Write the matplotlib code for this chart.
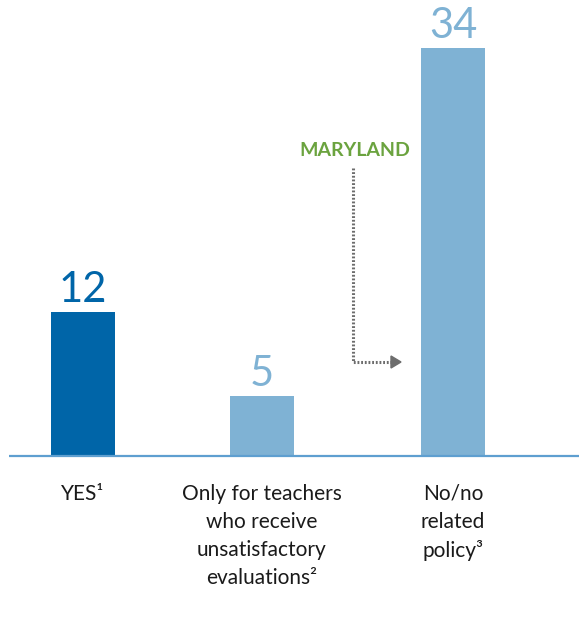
import matplotlib.pyplot as plt
from matplotlib.patches import Polygon

plt.rcParams['font.family'] = ['Lato', 'DejaVu Sans']

categories = ["YES\u00b9", "Only for teachers\nwho receive\nunsatisfactory\nevaluations\u00b2", "No/no\nrelated\npolicy\u00b3"]
values = [12, 5, 34]
bar_colors = ["#0065a8", "#7fb2d4", "#7fb2d4"]
callout_label = "MARYLAND"

W, H = 579, 624
fig = plt.figure(figsize=(W / 100, H / 100), dpi=100)
ax = fig.add_axes([0, 0, 1, 1])

# pixel-based horizontal frame, value-based vertical frame
px_per_unit = 12.0
base_px = 456
ax.set_xlim(0, W)
ax.set_ylim(-(H - base_px) / px_per_unit, base_px / px_per_unit)
ax.axis('off')

centers = [83, 262, 453]
bar_w = 64

ax.bar(centers, values, width=bar_w, color=bar_colors, zorder=2)
ax.plot([9, W], [0, 0], color="#5e9fd0", lw=1.6, zorder=3, solid_capstyle='butt')

for c, v, col in zip(centers, values, bar_colors):
    ax.annotate(str(v), (c, v), xytext=(0, 2), textcoords='offset points',
                ha='center', va='bottom', fontsize=30, color=col)

for c, lab in zip(centers, categories):
    ax.annotate(lab, (c, 0), xytext=(0, -20), textcoords='offset points',
                ha='center', va='top', fontsize=15, color="#1a1a1a",
                linespacing=1.5)

# callout for Maryland
ax.text(355, (base_px - 151) / px_per_unit, callout_label, ha='center', va='center',
        fontsize=14, fontweight='bold', color="#6ba33f")
y_top = (base_px - 168) / px_per_unit
y_bot = (base_px - 362) / px_per_unit
ax.plot([353, 353, 392], [y_top, y_bot, y_bot], color="#6d6d6d", lw=2.2,
        linestyle=(0, (0.6, 0.6)), zorder=3)
tri_h = 6 / px_per_unit
ax.add_patch(Polygon([[391, y_bot + tri_h], [391, y_bot - tri_h], [401, y_bot]],
                     closed=True, color="#6d6d6d", zorder=3))

fig.savefig("out.png", dpi=100)
